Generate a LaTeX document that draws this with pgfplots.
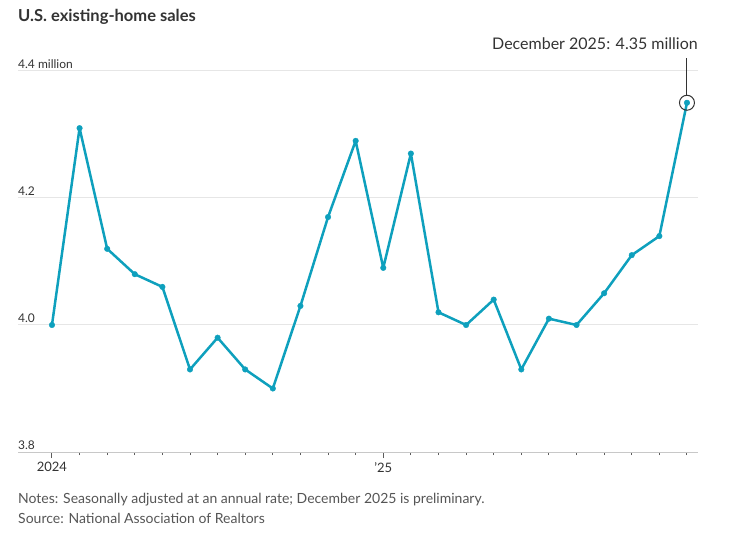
\documentclass[border=0pt]{standalone}
\usepackage{pgfplots}
\pgfplotsset{compat=1.18}
\usepackage{fontspec}
\setmainfont{Lato}

\definecolor{wsjline}{RGB}{14,160,189}
\definecolor{txt}{RGB}{51,51,51}
\definecolor{note}{RGB}{85,85,85}
\definecolor{gridc}{RGB}{230,230,230}
\definecolor{axc}{RGB}{200,200,200}

\begin{document}
\begin{tikzpicture}
\useasboundingbox (0,0) rectangle (733pt,533pt);

\node[anchor=base west, inner sep=0pt, text=txt, font=\fontsize{16.5}{20}\selectfont\bfseries]
  at (18pt,511pt) {U.S. existing-home sales};

\begin{axis}[
    at={(18pt,81pt)}, anchor=south west,
    scale only axis, width=680pt, height=381pt,
    xmin=-1.23, xmax=23.4,
    ymin=3.8, ymax=4.4,
    clip=false,
    axis x line*=bottom, axis y line*=left,
    x axis line style={draw=axc, line width=1pt},
    y axis line style={draw=none},
    ytick={3.8,4.0,4.2,4.4},
    yticklabels={3.8,4.0,4.2,4.4 million},
    ymajorgrids, grid style={draw=gridc, line width=1pt},
    ytick style={draw=none},
    yticklabel style={anchor=south west, inner sep=0pt, xshift=6pt, yshift=2pt,
        text=txt, font=\fontsize{12}{14}\selectfont},
    xtick={0,12}, xticklabels={2024,’25},
    minor xtick={0,...,23},
    tick align=outside,
    major tick length=6pt, minor tick length=3pt,
    xtick style={draw=txt!80, line width=1pt},
    minor tick style={draw=txt!80, line width=1pt},
    xticklabel style={text=txt, font=\fontsize{13}{15}\selectfont, yshift=-1pt},
    /pgf/number format/assume math mode=true,
]
\addplot[wsjline, line width=2.5pt, line join=round,
    mark=*, mark size=2.8pt, mark options={fill=wsjline, draw=wsjline, line width=0.4pt}]
  coordinates {
    (0,4.00) (1,4.31) (2,4.12) (3,4.08) (4,4.06) (5,3.93)
    (6,3.98) (7,3.93) (8,3.90) (9,4.03) (10,4.17) (11,4.29)
    (12,4.09) (13,4.27) (14,4.02) (15,4.00) (16,4.04) (17,3.93)
    (18,4.01) (19,4.00) (20,4.05) (21,4.11) (22,4.14) (23,4.35)
  };
\draw[txt, line width=1pt] (axis cs:23,4.35) circle[radius=7.5pt];
\draw[txt, line width=1pt] ([yshift=7.5pt]axis cs:23,4.35) -- ([yshift=45pt]axis cs:23,4.35);
\node[anchor=base east, inner sep=0pt, text=txt, font=\fontsize{16}{19}\selectfont]
  at ([yshift=21pt]rel axis cs:1,1) {December 2025: 4.35 million};
\end{axis}

\node[anchor=base west, inner sep=0pt, text=note, font=\fontsize{14}{17}\selectfont]
  at (18pt,30pt) {Notes: Seasonally adjusted at an annual rate; December 2025 is preliminary.};
\node[anchor=base west, inner sep=0pt, text=note, font=\fontsize{14}{17}\selectfont]
  at (18pt,9.7pt) {Source: National Association of Realtors};
\end{tikzpicture}
\end{document}
